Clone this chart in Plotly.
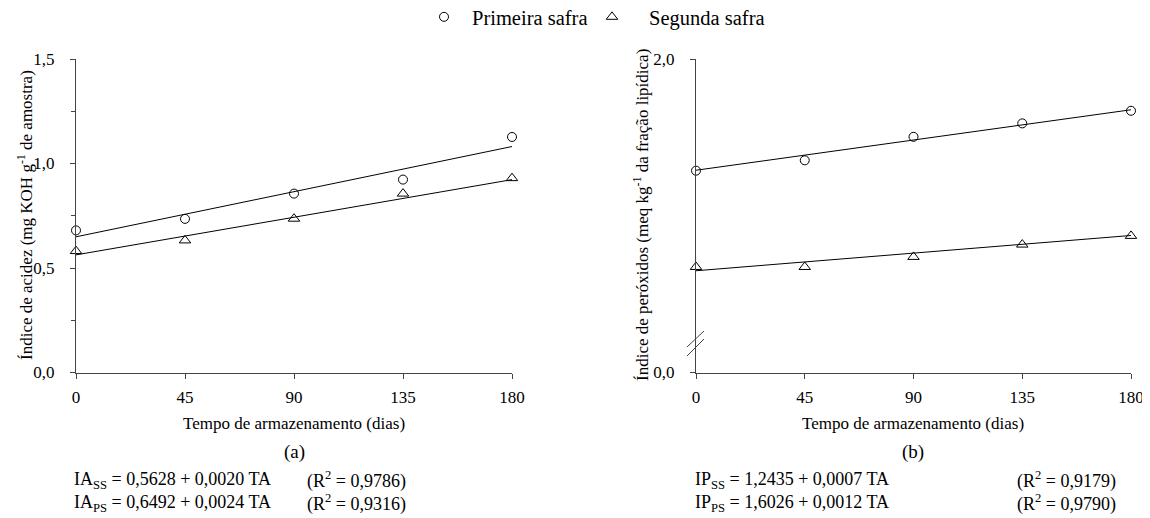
import plotly.graph_objects as go

# ---- data ----
dias = [0, 45, 90, 135, 180]
ia_primeira = [0.680, 0.735, 0.856, 0.923, 1.127]
ia_segunda = [0.581, 0.632, 0.736, 0.856, 0.930]
ip_primeira = [1.601, 1.638, 1.722, 1.770, 1.815]
ip_segunda = [1.257, 1.257, 1.293, 1.337, 1.368]

# regression coefficients (intercept, slope) from the printed equations
ia_ss = (0.5628, 0.0020)
ia_ps = (0.6492, 0.0024)
ip_ss = (1.2435, 0.0007)
ip_ps = (1.6026, 0.0012)

x_fit = [dias[0], dias[-1]]

# page has an 8px body margin; the figure fills the rest of the 1150x518 window
OFF = 8
W, H = 1150 - OFF, 518 - OFF
FONT = "Liberation Serif, Times New Roman, Tinos, Times, DejaVu Serif, serif"
AX = "#444444"


def px(x):
    return (x - OFF) / W


def py(y):
    return 1 - (y - OFF) / H


def fit(c):
    return [c[0] + c[1] * x for x in x_fit]


fig = go.Figure()

circ = dict(symbol="circle-open", size=9, color="black", line=dict(width=1, color="black"))
tri = dict(symbol="triangle-up-open", size=10, color="black", line=dict(width=1, color="black"))
ln = dict(color="black", width=1)

# (a)
fig.add_trace(go.Scatter(x=x_fit, y=fit(ia_ps), mode="lines", line=ln, showlegend=False, xaxis="x", yaxis="y"))
fig.add_trace(go.Scatter(x=x_fit, y=fit(ia_ss), mode="lines", line=ln, showlegend=False, xaxis="x", yaxis="y"))
fig.add_trace(go.Scatter(x=dias, y=ia_primeira, mode="markers", marker=circ, name="Primeira safra",
                         xaxis="x", yaxis="y", cliponaxis=False, legend="legend"))
fig.add_trace(go.Scatter(x=dias, y=ia_segunda, mode="markers", marker=tri, name="Segunda safra",
                         xaxis="x", yaxis="y", cliponaxis=False, legend="legend2"))
# (b)
fig.add_trace(go.Scatter(x=x_fit, y=fit(ip_ps), mode="lines", line=ln, showlegend=False, xaxis="x2", yaxis="y2"))
fig.add_trace(go.Scatter(x=x_fit, y=fit(ip_ss), mode="lines", line=ln, showlegend=False, xaxis="x2", yaxis="y2"))
fig.add_trace(go.Scatter(x=dias, y=ip_primeira, mode="markers", marker=circ, showlegend=False,
                         xaxis="x2", yaxis="y2", cliponaxis=False))
fig.add_trace(go.Scatter(x=dias, y=ip_segunda, mode="markers", marker=tri, showlegend=False,
                         xaxis="x2", yaxis="y2", cliponaxis=False))

tickfont = dict(family=FONT, size=17, color="black")
ydom = [py(372.5), py(59)]

xcommon = dict(range=[0, 180], tickvals=dias, ticks="outside", ticklen=5, tickcolor=AX,
               showline=True, linecolor=AX, linewidth=1, showgrid=False, zeroline=False,
               tickfont=tickfont, fixedrange=True, automargin=False, ticklabelstandoff=4)
ycommon = dict(ticks="outside", ticklen=5, tickcolor=AX, showline=True, linecolor=AX, linewidth=1,
               showgrid=False, zeroline=False, tickfont=tickfont, automargin=False, fixedrange=True,
               ticklabelstandoff=12)

legfont = dict(family=FONT, size=20.5, color="black")
legcommon = dict(orientation="h", xanchor="left", y=py(-3), yanchor="top", font=legfont,
                 bgcolor="rgba(0,0,0,0)", borderwidth=0, itemclick=False)

fig.update_layout(
    template="none",
    width=W, height=H,
    paper_bgcolor="white", plot_bgcolor="white",
    margin=dict(l=0, r=0, t=0, b=0, pad=0, autoexpand=False),
    separators=",.",
    font=dict(family=FONT, color="black", size=17),
    xaxis=dict(domain=[px(76), px(512)], anchor="y", **xcommon),
    yaxis=dict(domain=ydom, anchor="x", range=[0, 1.5], dtick=0.5, tickformat=".1f",
               minor=dict(dtick=0.25, ticks="outside", ticklen=4, tickcolor=AX, showgrid=False),
               **ycommon),
    xaxis2=dict(domain=[px(696), px(1131)], anchor="y2", **xcommon),
    yaxis2=dict(domain=ydom, anchor="x2", range=[0.88, 2.0], tickvals=[0.88, 2.0],
                ticktext=["0,0", "2,0"], **ycommon),
    legend=dict(x=px(416), itemwidth=46, **legcommon),
    legend2=dict(x=px(575), itemwidth=64, **legcommon),
)

ann = []
tfont = dict(family=FONT, size=17, color="black")
ann.append(dict(text="Índice de acidez (mg KOH g<sup>-1</sup> de amostra)", x=px(25), y=py(215),
                textangle=-90, font=tfont))
ann.append(dict(text="Índice de peróxidos (meq kg<sup>-1</sup> da fração lipídica)", x=px(641), y=py(215),
                textangle=-90, font=tfont))
for cx, lab in [(294, "(a)"), (913, "(b)")]:
    ann.append(dict(text="Tempo de armazenamento (dias)", x=px(cx), y=py(423), font=tfont))
    ann.append(dict(text=lab, x=px(cx), y=py(452), font=dict(family=FONT, size=19, color="black")))

efont = dict(family=FONT, size=18, color="black")
eqs = [
    (72, 305, 480, "IA<sub>SS</sub> = 0,5628 + 0,0020 TA", "(R<sup>2</sup> = 0,9786)"),
    (72, 305, 503, "IA<sub>PS</sub> = 0,6492 + 0,0024 TA", "(R<sup>2</sup> = 0,9316)"),
    (693, 1015, 480, "IP<sub>SS</sub> = 1,2435 + 0,0007 TA", "(R<sup>2</sup> = 0,9179)"),
    (693, 1015, 503, "IP<sub>PS</sub> = 1,6026 + 0,0012 TA", "(R<sup>2</sup> = 0,9790)"),
]
for x1, x2, yy, t1, t2 in eqs:
    ann.append(dict(text=t1, x=px(x1), y=py(yy), xanchor="left", font=efont))
    ann.append(dict(text=t2, x=px(x2), y=py(yy), xanchor="left", font=efont))

for a in ann:
    a.setdefault("xanchor", "center")
    a.update(xref="paper", yref="paper", yanchor="middle", showarrow=False)
fig.update_layout(annotations=ann)

# axis break marks on the right y axis
shapes = []
for (x0, y0, x1, y1) in [(687, 347, 704, 331), (687, 356, 704, 339)]:
    shapes.append(dict(type="line", xref="paper", yref="paper", x0=px(x0), y0=py(y0), x1=px(x1), y1=py(y1),
                       line=dict(color=AX, width=1)))
fig.update_layout(shapes=shapes)

fig.write_html("out.html")
